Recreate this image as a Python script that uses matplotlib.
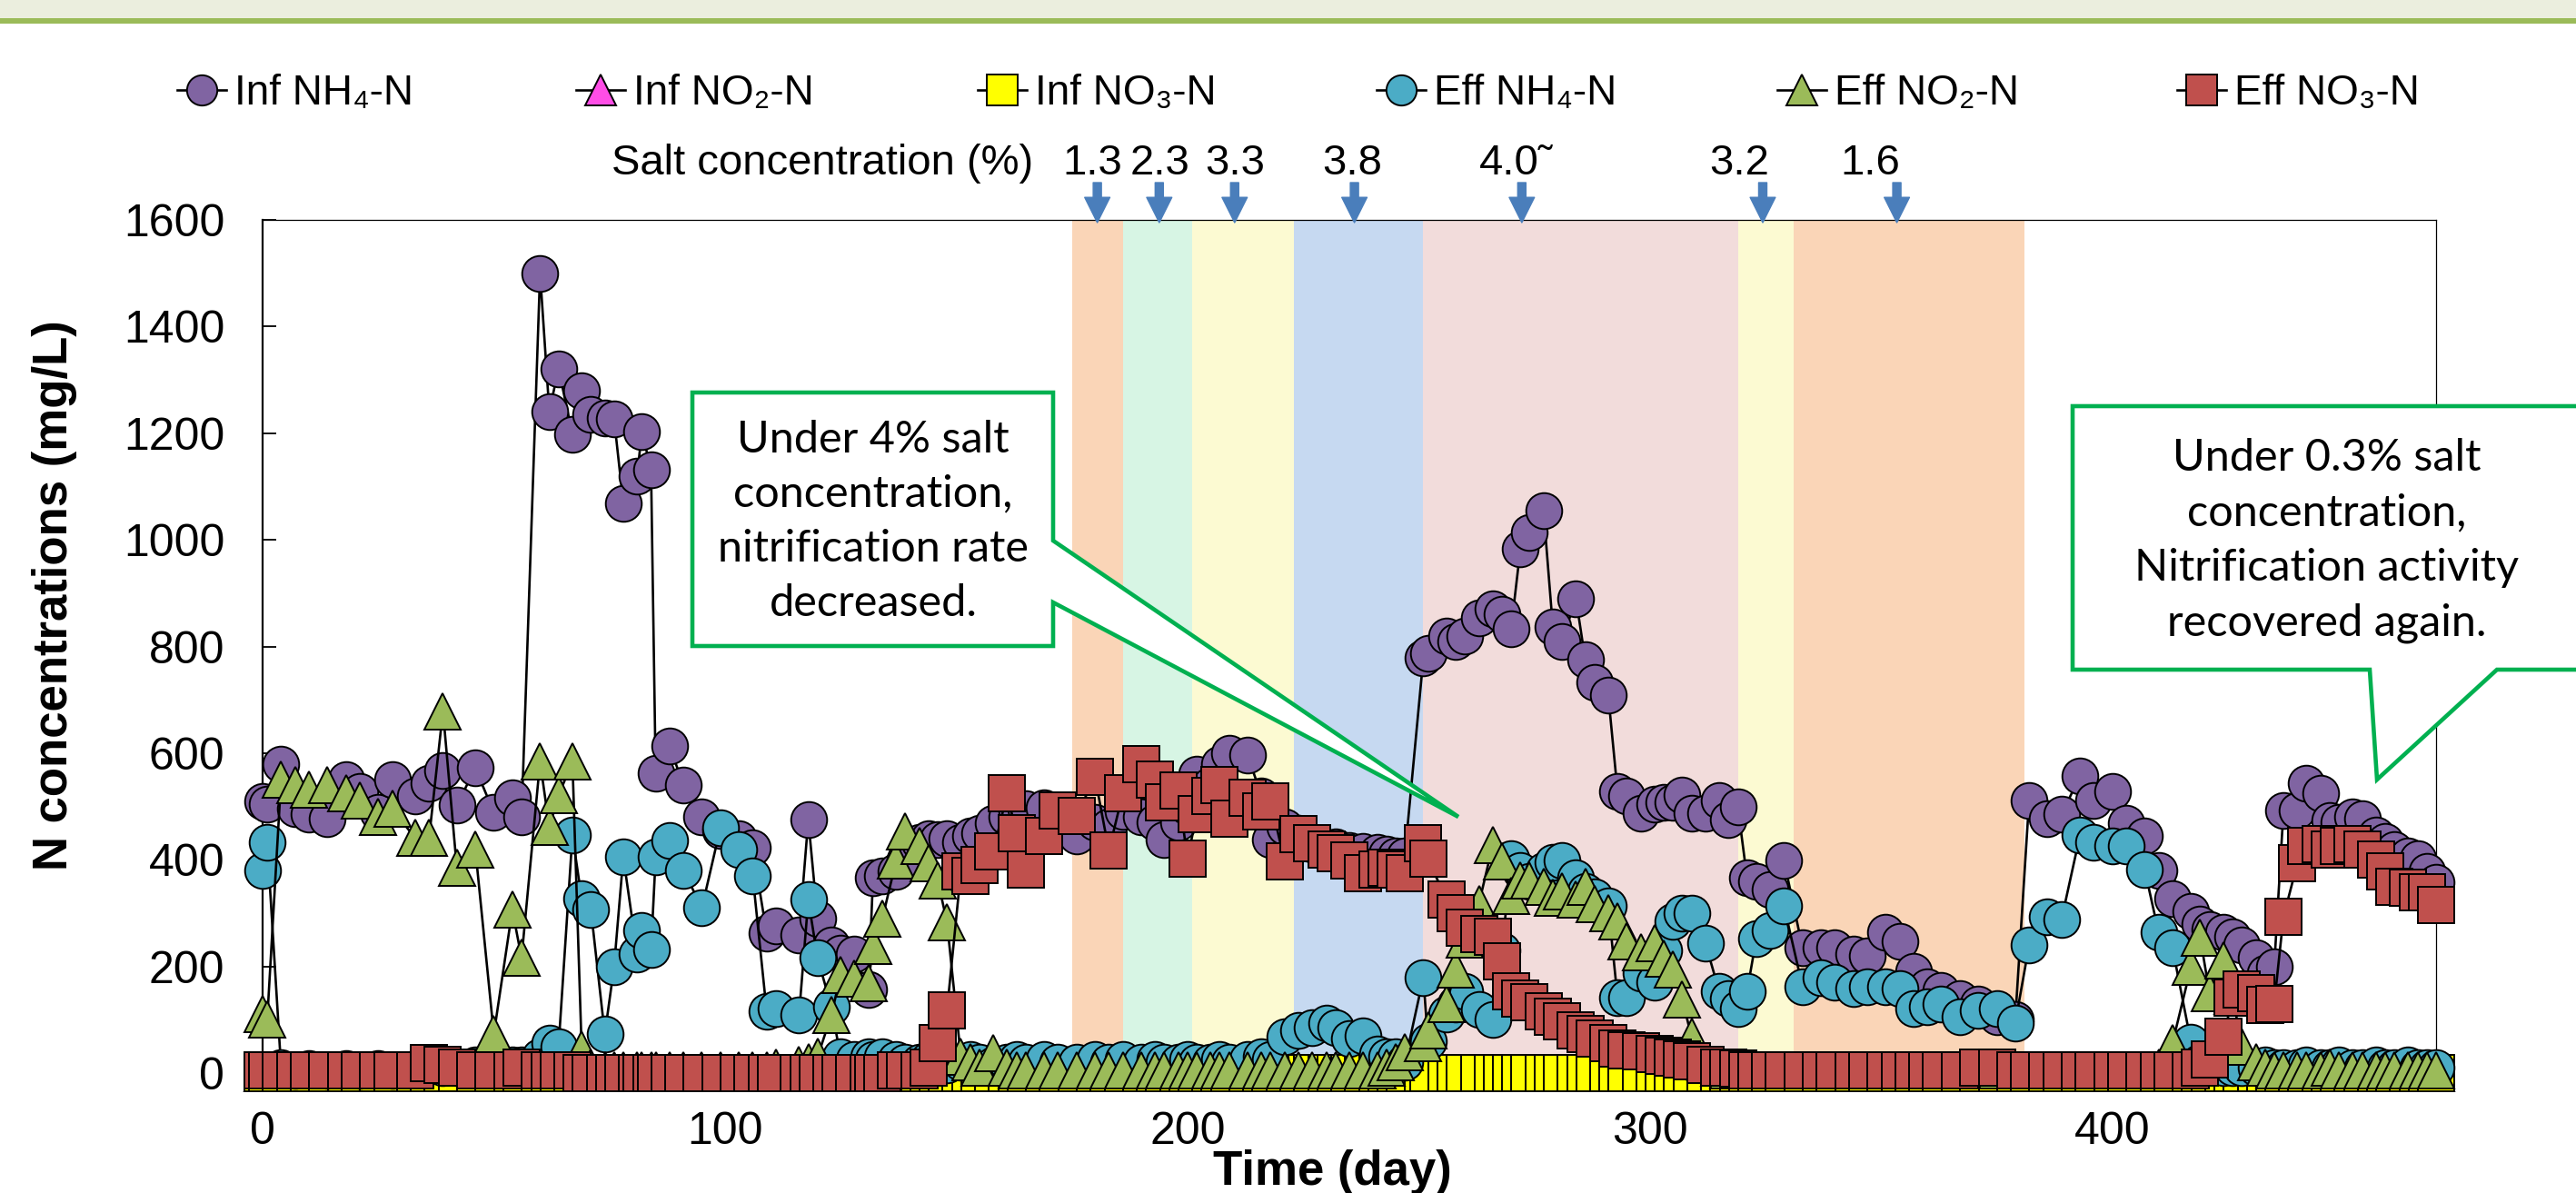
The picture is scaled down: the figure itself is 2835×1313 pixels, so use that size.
import matplotlib
matplotlib.use("Agg")
import matplotlib.pyplot as plt
from matplotlib.lines import Line2D
from matplotlib.patches import Polygon, Rectangle

plt.rcParams['font.family'] = ['Liberation Sans', 'DejaVu Sans']

W, H, DPI = 2835, 1313, 100

# --- sampling days ---
DAY = [0, 1, 4, 7, 10, 14, 18, 21, 25, 28,
       33, 36, 39, 42, 46, 50, 54, 56, 60, 62,
       64, 67, 69, 71, 74, 76, 78, 81, 82, 84,
       85, 88, 91, 95, 99, 103, 106, 109, 111, 116,
       118, 120, 123, 125, 128, 131, 132, 134, 137, 139,
       142, 144, 146, 148, 151, 153, 155, 158, 161, 163,
       165, 169, 172, 176, 180, 183, 186, 190, 193, 195,
       198, 200, 202, 205, 207, 209, 213, 216, 218, 221,
       224, 227, 230, 232, 235, 238, 241, 243, 245, 247,
       251, 252, 256, 258, 260, 263, 266, 268, 270, 272,
       274, 277, 279, 281, 284, 286, 288, 291, 293, 295,
       298, 301, 303, 305, 307, 309, 312, 315, 317, 319,
       321, 323, 326, 329, 333, 337, 340, 344, 347, 351,
       354, 357, 360, 363, 367, 371, 375, 379, 382, 386,
       389, 393, 396, 400, 403, 407, 410, 413, 417, 419,
       421, 424, 426, 428, 431, 433, 435, 437, 440, 442,
       445, 447, 449, 452, 454, 457, 459, 461, 464, 466,
       468, 470]

INF_NH4 = [510, 505, 579, 495, 485, 477, 551, 528, 489, 551,
           519, 543, 568, 502, 572, 489, 516, 480, 1500, 1241,
           1321, 1198, 1280, 1236, 1229, 1227, 1069, 1120, 1203, 1132,
           563, 613, 540, 480, 455, 440, 422, 262, 276, 259,
           475, 290, 240, 225, 223, 157, 366, 370, 378, 400,
           432, 440, 438, 440, 432, 445, 450, 468, 480, 490,
           495, 497, 480, 444, 470, 461, 490, 480, 470, 438,
           470, 500, 560, 540, 580, 599, 596, 520, 438, 461,
           450, 430, 420, 425, 418, 415, 414, 410, 408, 408,
           778, 788, 820, 810, 820, 854, 870, 860, 834, 984,
           1013, 1054, 837, 810, 890, 776, 732, 708, 528, 520,
           487, 504, 507, 507, 521, 487, 487, 512, 475, 500,
           366, 360, 345, 398, 235, 235, 235, 223, 219, 264,
           247, 190, 162, 155, 140, 130, 105, 100, 512, 477,
           485, 557, 512, 528, 468, 444, 380, 327, 303, 279,
           270, 264, 255, 240, 216, 187, 200, 492, 492, 543,
           524, 473, 470, 480, 477, 446, 434, 420, 408, 402,
           378, 357]

INF_NO2 = [0, 0, 0, 0, 0, 0, 0, 0, 0, 0,
           0, 0, 0, 0, 0, 0, 0, 0, 0, 0,
           0, 0, 0, 0, 0, 0, 0, 0, 0, 0,
           0, 0, 0, 0, 0, 0, 0, 0, 0, 0,
           0, 0, 0, 0, 0, 0, 0, 0, 0, 0,
           0, 0, 0, 0, 0, 0, 0, 0, 0, 0,
           0, 0, 0, 0, 10, 12, 0, 0, 0, 0,
           0, 0, 0, 0, 0, 0, 0, 0, 0, 0,
           0, 0, 0, 0, 0, 0, 0, 0, 0, 0,
           0, 0, 0, 0, 0, 0, 0, 0, 0, 0,
           0, 0, 0, 0, 0, 0, 0, 0, 0, 0,
           0, 0, 0, 0, 0, 0, 0, 0, 0, 0,
           0, 0, 0, 0, 0, 0, 0, 0, 0, 0,
           0, 0, 0, 0, 0, 0, 0, 0, 0, 0,
           0, 0, 0, 0, 0, 0, 0, 0, 0, 0,
           0, 0, 0, 0, 0, 0, 0, 0, 0, 0,
           0, 0, 0, 0, 0, 0, 0, 0, 0, 0,
           0, 0]

INF_NO3 = [0, 0, 0, 0, 0, 0, 0, 0, 0, 0,
           0, 0, 0, 0, 0, 0, 0, 0, 0, 0,
           0, 0, 0, 0, 0, 0, 0, 0, 0, 0,
           0, 0, 0, 0, 0, 0, 0, 0, 0, 0,
           0, 0, 0, 0, 0, 0, 0, 0, 0, 0,
           0, 0, 0, 0, 0, 0, 0, 0, 0, 0,
           0, 0, 0, 0, 0, 0, 0, 0, 0, 0,
           0, 0, 0, 0, 0, 0, 0, 0, 0, 0,
           0, 0, 0, 0, 0, 0, 0, 0, 0, 0,
           0, 0, 0, 0, 0, 0, 0, 0, 0, 0,
           0, 0, 0, 0, 0, 0, 0, 0, 0, 0,
           0, 0, 0, 0, 0, 0, 0, 0, 0, 0,
           0, 0, 0, 0, 0, 0, 0, 0, 0, 0,
           0, 0, 0, 0, 0, 0, 0, 0, 0, 0,
           0, 0, 0, 0, 0, 0, 0, 0, 0, 0,
           0, 0, 0, 0, 0, 0, 0, 0, 0, 0,
           0, 0, 0, 0, 0, 0, 0, 0, 0, 0,
           0, 0]

EFF_NH4 = [380, 432, 10, 5, 8, 5, 8, 5, 8, 5,
           8, 15, 10, 10, 15, 20, 15, 15, 30, 56,
           50, 446, 327, 306, 73, 199, 405, 223, 267, 231,
           405, 437, 380, 310, 460, 420, 369, 116, 121, 109,
           325, 216, 124, 30, 25, 30, 25, 30, 25, 20,
           20, 25, 20, 15, 20, 25, 20, 15, 20, 25,
           20, 25, 20, 20, 25, 20, 25, 20, 25, 20,
           20, 25, 20, 20, 25, 20, 25, 30, 25, 68,
           80, 85, 93, 85, 65, 70, 36, 30, 30, 20,
           179, 60, 110, 130, 153, 120, 100, 230, 402, 380,
           360, 380, 395, 398, 366, 340, 330, 313, 141, 141,
           187, 170, 230, 284, 300, 300, 243, 153, 140, 121,
           153, 252, 267, 313, 162, 179, 170, 158, 162, 162,
           158, 121, 125, 130, 106, 117, 121, 94, 240, 293,
           288, 446, 432, 426, 426, 381, 264, 235, 58, 20,
           15, 10, 10, 10, 10, 15, 10, 10, 10, 15,
           10, 10, 15, 10, 10, 15, 10, 10, 15, 10,
           10, 10]

EFF_NO2 = [110, 100, 551, 540, 531, 540, 525, 512, 480, 495,
           441, 441, 679, 385, 420, 73, 306, 216, 584, 461,
           521, 584, 44, 10, 5, 5, 5, 5, 5, 5,
           5, 5, 5, 5, 5, 5, 5, 5, 10, 15,
           20, 30, 109, 184, 177, 169, 238, 289, 398, 453,
           426, 393, 361, 283, 30, 20, 10, 37, 10, 5,
           5, 5, 5, 5, 5, 5, 5, 5, 5, 5,
           5, 5, 5, 5, 5, 5, 5, 5, 5, 5,
           5, 5, 5, 5, 5, 5, 5, 10, 20, 40,
           56, 80, 130, 194, 250, 317, 427, 397, 333, 362,
           361, 350, 329, 340, 325, 349, 317, 300, 284, 247,
           226, 243, 214, 194, 138, 68, 20, 10, 5, 5,
           5, 5, 5, 5, 5, 5, 5, 5, 5, 5,
           5, 5, 5, 5, 5, 5, 5, 5, 5, 5,
           5, 5, 5, 5, 5, 5, 10, 56, 199, 254,
           150, 211, 145, 50, 20, 10, 5, 5, 5, 5,
           5, 10, 5, 5, 5, 5, 5, 5, 5, 5,
           5, 5]

EFF_NO3 = [5, 5, 5, 5, 5, 5, 5, 5, 5, 5,
           5, 18, 15, 10, 5, 5, 5, 10, 5, 5,
           5, 5, 0, 0, 0, 0, 0, 0, 0, 0,
           0, 0, 0, 0, 0, 0, 0, 0, 0, 0,
           0, 0, 0, 0, 0, 0, 0, 0, 5, 5,
           5, 10, 56, 118, 378, 370, 390, 415, 524, 450,
           381, 444, 492, 483, 555, 417, 524, 579, 551, 507,
           530, 402, 485, 520, 540, 477, 516, 490, 509, 397,
           448, 431, 420, 413, 398, 375, 381, 385, 381, 375,
           431, 402, 325, 300, 272, 260, 255, 210, 153, 140,
           133, 116, 105, 97, 80, 73, 65, 56, 46, 43,
           41, 36, 32, 29, 25, 22, 15, 10, 10, 8,
           5, 5, 5, 5, 5, 5, 5, 5, 5, 5,
           5, 5, 5, 5, 5, 10, 10, 5, 5, 5,
           5, 5, 5, 5, 5, 5, 5, 5, 5, 10,
           25, 68, 141, 157, 150, 128, 130, 293, 393, 426,
           430, 420, 426, 430, 420, 400, 378, 350, 348, 339,
           339, 315]

LABELS = ["Inf NH\u2084-N", "Inf NO\u2082-N", "Inf NO\u2083-N",
          "Eff NH\u2084-N", "Eff NO\u2082-N", "Eff NO\u2083-N"]
COLORS = ["#8064A2", "#FF4DE6", "#FFFF00", "#4BACC6", "#9BBB59", "#C0504D"]
MARKERS = ["o", "^", "s", "o", "^", "s"]

# salt periods (day start, day end, colour)
BAND_START = [175, 186, 201, 223, 251, 319, 331]
BAND_END = [186, 201, 223, 251, 319, 331, 381]
BAND_COL = ["#FAD5B7", "#D7F5E4", "#FCFAD2", "#C6D9F1", "#F2DCDB", "#FCFAD2", "#FAD5B7"]

SALT_LABELS = ["1.3", "2.3", "3.3", "3.8", "4.0\u02dc", "3.2", "1.6"]
SALT_LABEL_DAY = [179.4, 194.1, 210.2, 235.6, 271.1, 319.4, 347.7]
SALT_ARROW_DAY = [180.5, 193.9, 210.2, 236.1, 272.3, 324.4, 353.4]


def fx(x):
    return x / W


def fy(y):
    return 1 - y / H


fig = plt.figure(figsize=(W / DPI, H / DPI), dpi=DPI)

# header strip
fig.add_artist(Rectangle((0, fy(20)), 1, 20 / H, transform=fig.transFigure,
                         color="#EBEEDE", lw=0))
fig.add_artist(Rectangle((0, fy(26)), 1, 6 / H, transform=fig.transFigure,
                         color="#9BBB59", lw=0))

ax_l, ax_r, ax_t, ax_b = 289, 2681, 242, 1181
ax = fig.add_axes([fx(ax_l), fy(ax_b), (ax_r - ax_l) / W, (ax_b - ax_t) / H])

for s, e, c in zip(BAND_START, BAND_END, BAND_COL):
    ax.axvspan(s, e, color=c, lw=0, zorder=0)

series = [INF_NH4, INF_NO2, INF_NO3, EFF_NH4, EFF_NO2, EFF_NO3]
for i, (vals, col, mk) in enumerate(zip(series, COLORS, MARKERS)):
    ax.plot(DAY, vals, color="black", lw=1.9, marker=mk, ms=28.5, mfc=col,
            mec="black", mew=1.4, clip_on=False, zorder=3 + i)

ax.set_xlim(0, 470)
ax.set_ylim(0, 1600)
ax.set_xticks([0, 100, 200, 300, 400])
ax.set_yticks(range(0, 1601, 200))
ax.tick_params(direction="in", length=11, width=1.3, labelsize=36, pad=30)
for side in ("top", "right"):
    ax.spines[side].set_linewidth(0.9)
for side in ("left", "bottom"):
    ax.spines[side].set_linewidth(1.6)

# salt concentration arrows
xt = ax.get_xaxis_transform()
axh = ax_b - ax_t
for d in SALT_ARROW_DAY:
    ax.annotate("", xy=(d, 1 - 3 / axh), xycoords=xt, xytext=(d, 1 + 41 / axh),
                textcoords=xt, annotation_clip=False,
                arrowprops=dict(width=6.5, headwidth=20, headlength=20,
                                color="#4A7EBB", shrink=0))
for lab, d in zip(SALT_LABELS, SALT_LABEL_DAY):
    ax.text(d, (ax_b - 192) / axh, lab, transform=xt, ha="center",
            va="baseline", fontsize=34, clip_on=False)
ax.text(166.6, (ax_b - 192) / axh, "Salt concentration (%)", transform=xt,
        ha="right", va="baseline", fontsize=34, clip_on=False)

# legend row drawn by hand (equal spacing like the original)
LEG_X = [222, 661, 1103, 1542, 1983, 2423]
for x, lab, col, mk in zip(LEG_X, LABELS, COLORS, MARKERS):
    fig.add_artist(Line2D([fx(x - 27), fx(x + 27)], [fy(99), fy(99)],
                          transform=fig.transFigure, color="black", lw=1.9))
    fig.add_artist(Line2D([fx(x)], [fy(99)], transform=fig.transFigure,
                          marker=mk, ms=24, mfc=col, mec="black", mew=1.4))
    fig.text(fx(x + 36), fy(115), lab, ha="left", va="baseline", fontsize=33)

fig.text(fx(60), fy(655), "N concentrations (mg/L)", rotation=90,
         ha="center", va="center", fontsize=38, fontweight="bold")
fig.text(fx(1466), fy(1290), "Time (day)", ha="center", va="center",
         fontsize=38, fontweight="bold")


def callout(pts, text, cx, cy):
    poly = Polygon([(fx(x), fy(y)) for x, y in pts], closed=True,
                   transform=fig.transFigure, fc="white", ec="#00B050",
                   lw=3.3, joinstyle="miter", zorder=10)
    fig.add_artist(poly)
    fig.text(fx(cx), fy(cy), text, ha="center", va="center",
             multialignment="center", fontsize=35, family=["Lato", "DejaVu Sans"],
             linespacing=1.45, zorder=11)


callout([(762, 432), (1159, 432), (1159, 595), (1605, 899), (1159, 663),
         (1159, 711), (762, 711)],
        "Under 4% salt\nconcentration,\nnitrification rate\ndecreased.", 961, 574)
callout([(2281, 447), (2845, 447), (2845, 737), (2748, 737), (2616, 858),
         (2608, 737), (2281, 737)],
        "Under 0.3% salt\nconcentration,\nNitrification activity\nrecovered again.",
        2561, 595)

fig.savefig("out.png", dpi=DPI)
